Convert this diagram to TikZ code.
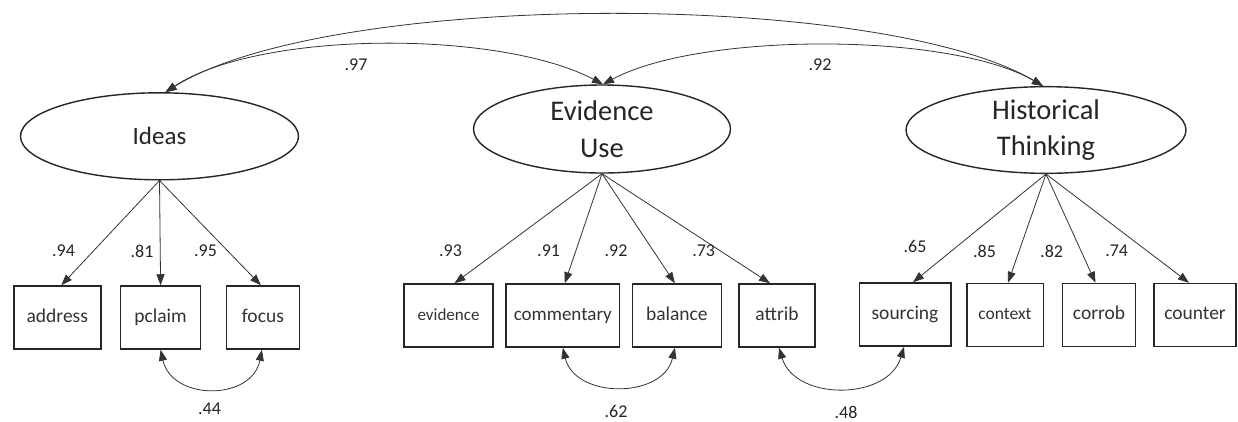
\documentclass[tikz,border=0pt]{standalone}
\usepackage{fontspec}
\setmainfont{Carlito}
\usetikzlibrary{shapes.geometric,arrows.meta}
\begin{document}
\begin{tikzpicture}[x=1pt,y=-1pt,
  latent/.style={draw=black!85,line width=1.4pt,ellipse,inner sep=0pt,align=center,
     font=\fontsize{28.5}{36.6}\selectfont,text=black!85},
  obs/.style={draw=black!85,line width=1.5pt,rectangle,inner sep=0pt,minimum height=63pt,
     text height=0.9em,text depth=0em,
     font=\fontsize{19.5}{22}\selectfont,text=black!80},
  load/.style={draw=black!80,line width=0.8pt,-{Triangle[length=11pt,width=8pt]}},
  cov/.style={draw=black!80,line width=0.8pt,{Triangle[length=11pt,width=8pt]}-{Triangle[length=11pt,width=8pt]}},
  lab/.style={font=\fontsize{18}{20}\selectfont,text=black!85,inner sep=0pt}]
\useasboundingbox (0,0) rectangle (1238,421);
\fill[white] (0,0) rectangle (1238,421);
% latent variables
\node[latent,minimum width=278pt,minimum height=87pt,font=\fontsize{25}{30}\selectfont] (ideas) at (159.5,136.3) {Ideas};
\node[latent,minimum width=257pt,minimum height=88pt] (evid) at (602,129) {Evidence\\Use};
\node[latent,minimum width=280pt,minimum height=86pt] (hist) at (1046,130) {Historical\\Thinking};
% observed variables
\node[obs,minimum width=87pt] (address) at (57.3,317.5) {address};
\node[obs,minimum width=80pt] (pclaim) at (160.6,317.5) {pclaim};
\node[obs,minimum width=72.7pt] (focus) at (262.9,317.5) {focus};
\node[obs,minimum width=89pt,font=\fontsize{17}{20}\selectfont] (evidence) at (448.5,315.5) {evidence};
\node[obs,minimum width=113.5pt,font=\fontsize{19}{22}\selectfont] (comment) at (562.8,315.5) {commentary};
\node[obs,minimum width=88.7pt] (balance) at (676.9,315.5) {balance};
\node[obs,minimum width=76pt] (attrib) at (777,315.5) {attrib};
\node[obs,minimum width=91.5pt] (sourcing) at (905,314.5) {sourcing};
\node[obs,minimum width=76.5pt,font=\fontsize{17.5}{20}\selectfont] (context) at (1005,315) {context};
\node[obs,minimum width=73pt] (corrob) at (1099,315) {corrob};
\node[obs,minimum width=82pt] (counter) at (1195,315) {counter};
% loadings
\draw[load] (ideas.south) -- ([xshift=4pt]address.north);
\draw[load] (ideas.south) -- (pclaim.north);
\draw[load] (ideas.south) -- ([xshift=-2pt]focus.north);
\draw[load] (evid.south) -- ([xshift=6pt]evidence.north);
\draw[load] (evid.south) -- ([xshift=2pt]comment.north);
\draw[load] (evid.south) -- ([xshift=-2pt]balance.north);
\draw[load] (evid.south) -- ([xshift=-7pt]attrib.north);
\draw[load] (hist.south) -- ([xshift=8pt]sourcing.north);
\draw[load] (hist.south) -- ([xshift=3pt]context.north);
\draw[load] (hist.south) -- ([xshift=-3.5pt]corrob.north);
\draw[load] (hist.south) -- ([xshift=-6pt]counter.north);
% factor covariances
\coordinate (itop) at ([xshift=6pt]ideas.north);
\coordinate (etop) at ([xshift=1pt]evid.north);
\coordinate (htop) at ([xshift=-3pt]hist.north);
\draw[cov] (itop) .. controls (260,30) and (500,30) .. (etop);
\draw[cov] (etop) .. controls (700,32) and (950,32) .. (htop);
\draw[cov] (itop) .. controls (330,-10) and (880,-10) .. (htop);
% residual covariances
\draw[cov] (pclaim.south) .. controls (172,401) and (252,401) .. ([xshift=-1pt]focus.south);
\draw[cov] (comment.south) .. controls (575,399) and (663,399) .. ([xshift=-2pt]balance.south);
\draw[cov] ([xshift=2pt]attrib.south) .. controls (795,401) and (888,401) .. ([xshift=-1pt]sourcing.south);
% labels
\node[lab] (l97) at (356,65) {.97};
\node[lab] (l92a) at (820,65) {.92};
\node[lab] (l94) at (63.5,251) {.94};
\node[lab] (l81) at (142,251) {.81};
\node[lab] (l95) at (205.5,251) {.95};
\node[lab] (l93) at (450.6,251) {.93};
\node[lab] (l91) at (548.6,251) {.91};
\node[lab] (l92b) at (616,251) {.92};
\node[lab] (l73) at (703.7,251) {.73};
\node[lab] (l65) at (915,246) {.65};
\node[lab] (l85) at (984.5,251) {.85};
\node[lab] (l82) at (1051.6,251) {.82};
\node[lab] (l74) at (1116.7,251) {.74};
\node[lab] (l44) at (209.5,409) {.44};
\node[lab] (l62) at (616,411.5) {.62};
\node[lab] (l48) at (846,412) {.48};
\end{tikzpicture}
\end{document}
